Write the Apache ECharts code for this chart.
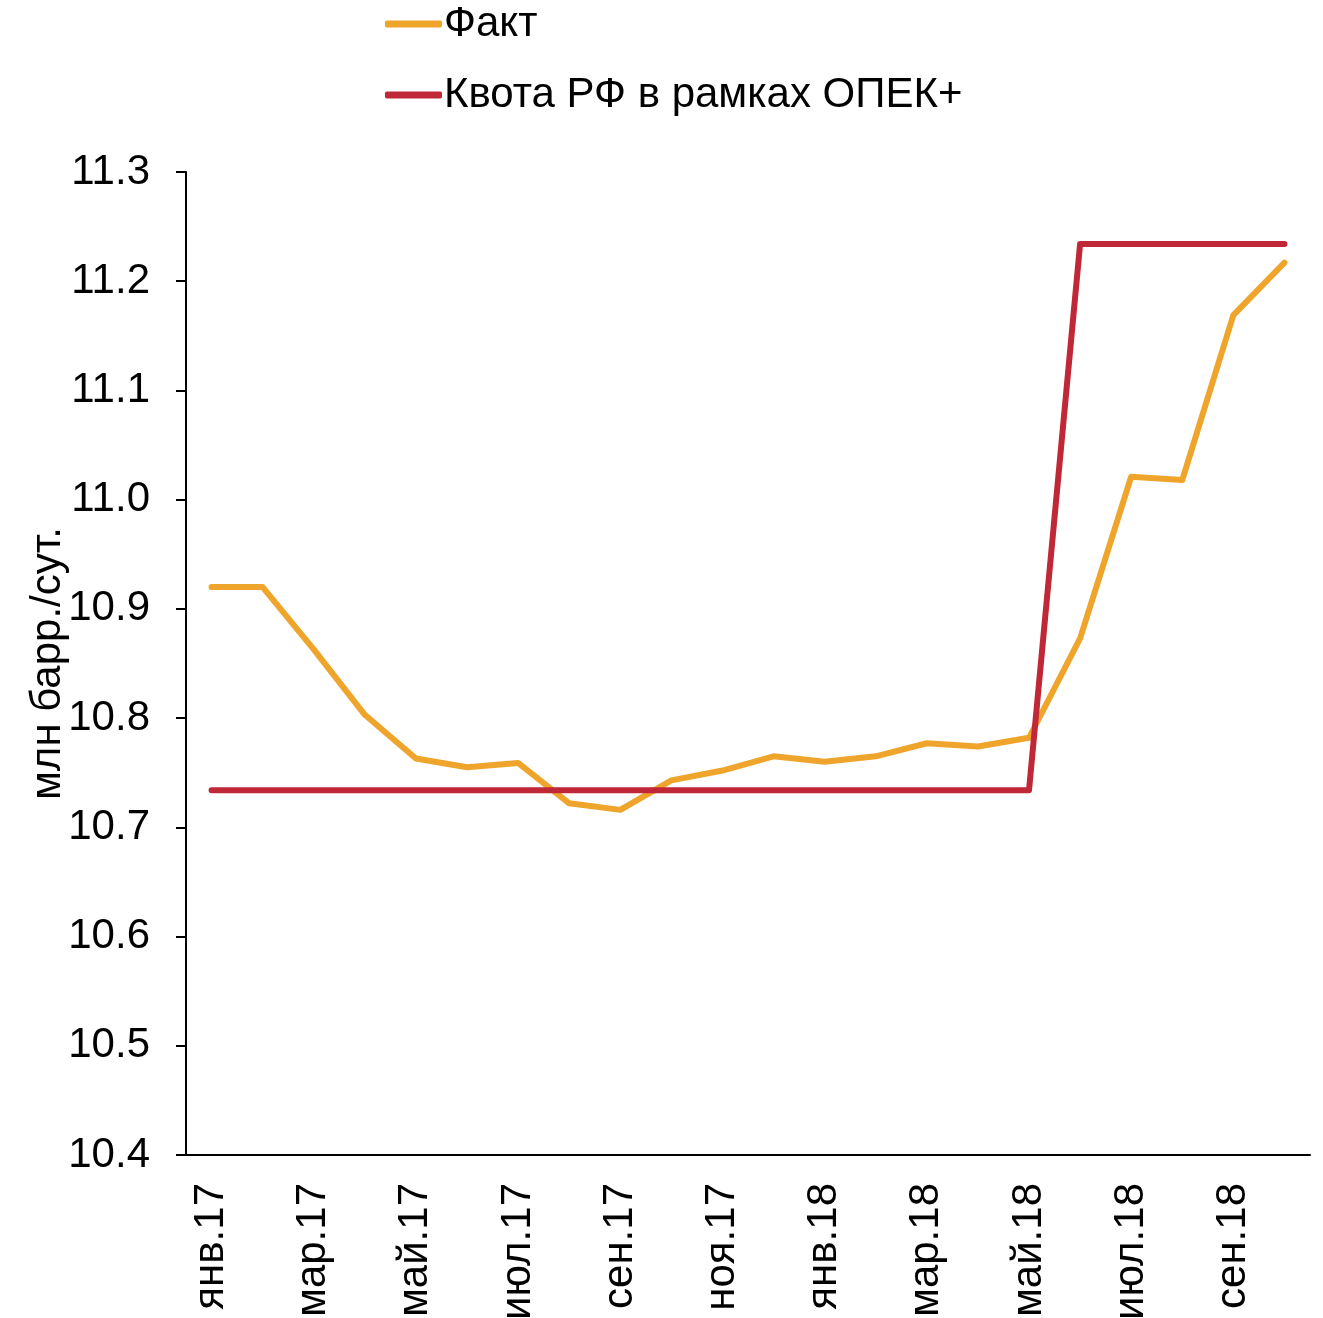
<!DOCTYPE html>
<html>
<head>
<meta charset="utf-8">
<script src="https://cdn.jsdelivr.net/npm/echarts@6/dist/echarts.min.js"></script>
<style>
html,body{margin:0;padding:0;background:#fff;}
#chart{width:1323px;height:1318px;}
</style>
</head>
<body>
<div id="chart"></div>
<script>
const categories = ['янв.17','фев.17','мар.17','апр.17','май.17','июн.17','июл.17','авг.17','сен.17','окт.17','ноя.17','дек.17',
  'янв.18','фев.18','мар.18','апр.18','май.18','июн.18','июл.18','авг.18','сен.18','окт.18'];
const fact = [10.920,10.920,10.863,10.803,10.763,10.755,10.759,10.722,10.716,10.743,10.752,10.765,
  10.760,10.765,10.777,10.774,10.782,10.873,11.021,11.018,11.169,11.217];
const quota = [10.734,10.734,10.734,10.734,10.734,10.734,10.734,10.734,10.734,10.734,10.734,10.734,
  10.734,10.734,10.734,10.734,10.734,11.234,11.234,11.234,11.234,11.234];
const seriesNames = ['Факт','Квота РФ в рамках ОПЕК+'];
const yAxisName = 'млн барр./сут.';

const FONT = '"Liberation Sans", Arial, sans-serif';
const chart = echarts.init(document.getElementById('chart'));
chart.setOption({
  animation: false,
  backgroundColor: '#fff',
  textStyle: {fontFamily: FONT},
  legend: {
    orient: 'vertical',
    left: 380,
    top: -2,
    itemWidth: 57,
    itemHeight: 7,
    itemGap: 29,
    icon: 'roundRect',
    textStyle: {fontFamily: FONT, fontSize: 42, color: '#000', padding: [0,0,0,-3]},
    data: seriesNames
  },
  grid: {left: 186, right: 13, top: 172, bottom: 163, containLabel: false, outerBoundsMode: 'none'},
  xAxis: {
    type: 'category',
    data: categories,
    boundaryGap: true,
    axisLine: {lineStyle: {color: '#000', width: 2}},
    axisTick: {show: false},
    axisLabel: {interval: 1, rotate: 90, fontSize: 42, color: '#000', fontFamily: FONT, margin: 28}
  },
  yAxis: {
    type: 'value',
    min: 10.4,
    max: 11.3,
    interval: 0.1,
    name: yAxisName,
    nameLocation: 'middle',
    nameGap: 117,
    nameMoveOverlap: false,
    nameTextStyle: {fontSize: 42, color: '#000', fontFamily: FONT},
    axisLine: {show: true, lineStyle: {color: '#000', width: 2}},
    axisTick: {show: true, length: 10, lineStyle: {color: '#000', width: 2}},
    splitLine: {show: false},
    axisLabel: {fontSize: 42, color: '#000', fontFamily: FONT, margin: 36,
      formatter: v => v.toFixed(1)}
  },
  series: [
    {name: seriesNames[0], type: 'line', data: fact, symbol: 'none',
      lineStyle: {color: '#EFA52C', width: 6, cap: 'round', join: 'round'}, itemStyle: {color: '#EFA52C'}, z: 2},
    {name: seriesNames[1], type: 'line', data: quota, symbol: 'none',
      lineStyle: {color: '#C02737', width: 6, cap: 'round', join: 'round'}, itemStyle: {color: '#C02737'}, z: 3}
  ]
});
</script>
</body>
</html>
